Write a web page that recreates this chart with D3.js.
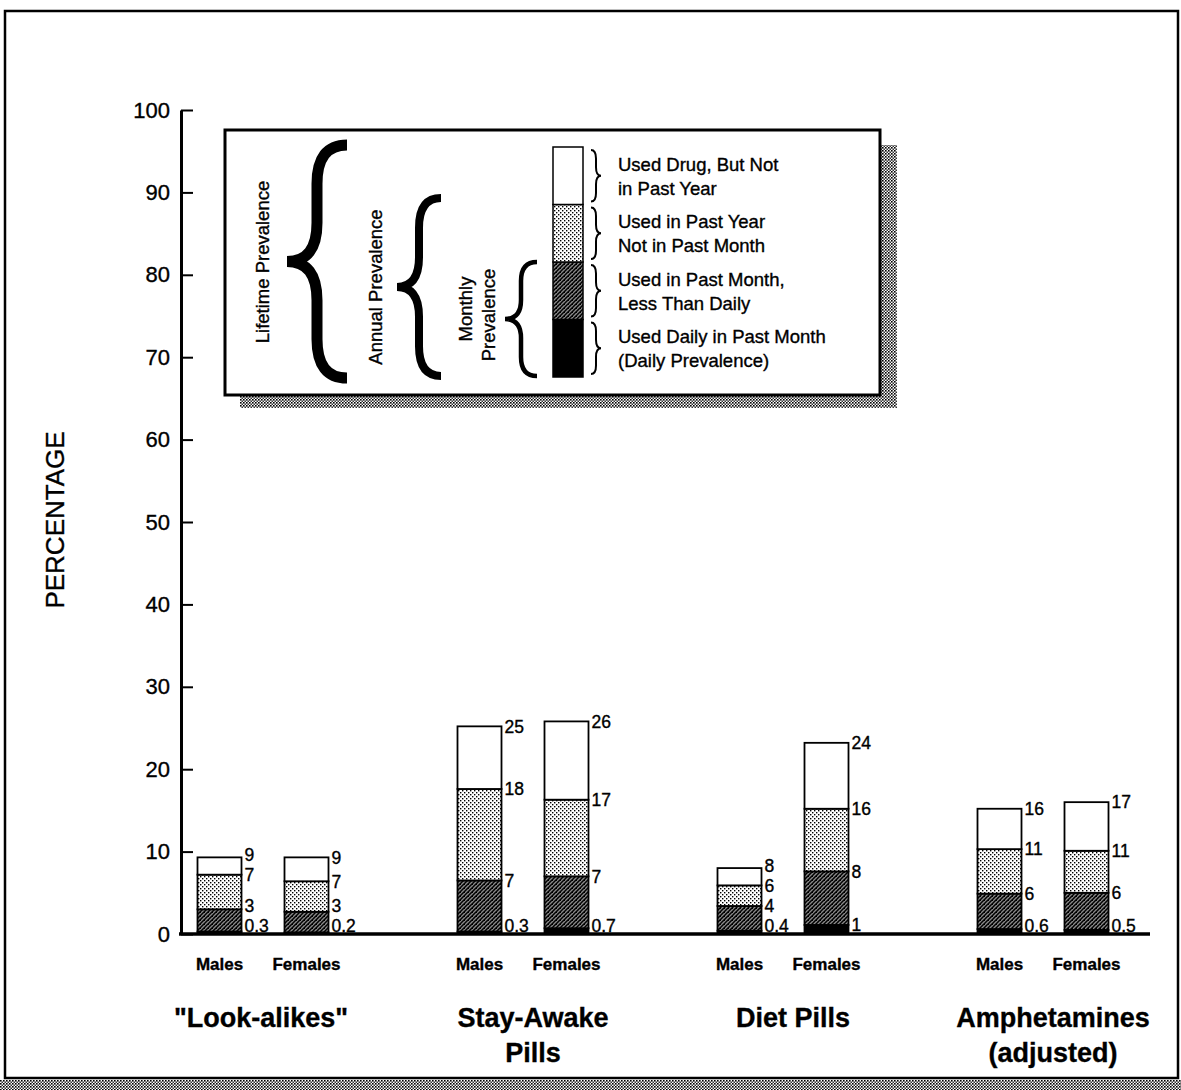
<!DOCTYPE html>
<html><head><meta charset="utf-8">
<script src="https://cdn.jsdelivr.net/npm/d3@7"></script>
<style>
html,body{margin:0;padding:0;background:#fff;}
svg{display:block;font-family:"Liberation Sans",Arial,Helvetica,sans-serif;}
svg text{stroke:#000;stroke-width:0.35px;}
</style></head>
<body>
<svg id="chart" width="1181" height="1090"></svg>
<script>
// ---- data ----
const groups = ['"Look-alikes"', 'Stay-Awake Pills', 'Diet Pills', 'Amphetamines (adjusted)'];
const groupLines = [['"Look-alikes"'], ['Stay-Awake', 'Pills'], ['Diet Pills'], ['Amphetamines', '(adjusted)']];
const sexes = ['Males', 'Females'];
// cumulative heights per bar (order: group x sex)
const daily    = [0.3, 0.2, 0.3, 0.7, 0.4, 1.1, 0.6, 0.5];
const monthly  = [3.0, 2.7, 6.5, 7.0, 3.4, 7.6, 4.9, 5.0];
const annual   = [7.2, 6.4, 17.6, 16.3, 5.9, 15.2, 10.3, 10.1];
const lifetime = [9.3, 9.3, 25.2, 25.8, 8.0, 23.2, 15.2, 16.0];
const dailyLabels    = ['0.3', '0.2', '0.3', '0.7', '0.4', '1', '0.6', '0.5'];
const monthlyLabels  = ['3', '3', '7', '7', '4', '8', '6', '6'];
const annualLabels   = ['7', '7', '18', '17', '6', '16', '11', '11'];
const lifetimeLabels = ['9', '9', '25', '26', '8', '24', '16', '17'];
const yTicks = [0, 10, 20, 30, 40, 50, 60, 70, 80, 90, 100];
const legendItems = [
  ['Used Drug, But Not', 'in Past Year'],
  ['Used in Past Year', 'Not in Past Month'],
  ['Used in Past Month,', 'Less Than Daily'],
  ['Used Daily in Past Month', '(Daily Prevalence)']
];

// ---- setup ----
const svg = d3.select('#chart');
const defs = svg.append('defs');

// light stipple
const pl = defs.append('pattern').attr('id', 'light').attr('patternUnits', 'userSpaceOnUse').attr('width', 4).attr('height', 4);
pl.append('rect').attr('width', 4).attr('height', 4).attr('fill', '#fff');
pl.append('rect').attr('x', 0).attr('y', 0).attr('width', 1.4).attr('height', 1.4).attr('fill', '#000');
pl.append('rect').attr('x', 2).attr('y', 2).attr('width', 1.4).attr('height', 1.4).attr('fill', '#000');
// dark hatch
const pd = defs.append('pattern').attr('id', 'dark').attr('patternUnits', 'userSpaceOnUse').attr('width', 4).attr('height', 4);
pd.append('rect').attr('width', 4).attr('height', 4).attr('fill', '#8a8a8a');
pd.append('path').attr('d', 'M-1,1 L1,-1 M0,4 L4,0 M3,5 L5,3').attr('stroke', '#000').attr('stroke-width', 1.5);
pd.append('rect').attr('x', 0).attr('y', 0).attr('width', 1).attr('height', 1).attr('fill', '#000');
// shadow checker
const ps = defs.append('pattern').attr('id', 'shadow').attr('patternUnits', 'userSpaceOnUse').attr('width', 3).attr('height', 3);
ps.append('rect').attr('width', 3).attr('height', 3).attr('fill', '#fff');
ps.append('rect').attr('x', 0).attr('y', 0).attr('width', 1.6).attr('height', 1.6).attr('fill', '#000');
ps.append('rect').attr('x', 1.5).attr('y', 1.5).attr('width', 1.5).attr('height', 1.5).attr('fill', '#333');

const fills = ['#000', 'url(#dark)', 'url(#light)', '#fff'];

// outer frame + bottom shadow
svg.append('rect').attr('x', 0).attr('y', 1080).attr('width', 1181).attr('height', 10).attr('fill', 'url(#shadow)');
svg.append('rect').attr('x', 5).attr('y', 11).attr('width', 1173).attr('height', 1067)
  .attr('fill', '#fff').attr('stroke', '#000').attr('stroke-width', 2.5);

// scales
const y = d3.scaleLinear().domain([0, 100]).range([934, 110]);
const xg = d3.scalePoint().domain(groups).range([263, 1043]);
const xs = d3.scalePoint().domain(sexes).range([-43.5, 43.5]);
const barW = 44;

// y axis
const yAxis = d3.axisLeft(y).tickValues(yTicks).tickSize(-12).tickSizeOuter(0).tickPadding(11).tickFormat(d3.format('d'));
const ga = svg.append('g').attr('transform', 'translate(181,0)').call(yAxis);
ga.select('.domain').attr('stroke', '#000').attr('stroke-width', 3);
ga.selectAll('.tick line').attr('stroke', '#000').attr('stroke-width', 2);
ga.selectAll('.tick text').attr('font-size', 22).attr('fill', '#000')
  .attr('font-family', '"Liberation Sans",Arial,sans-serif');

svg.append('text').attr('transform', 'translate(64,520) rotate(-90)').attr('text-anchor', 'middle')
  .attr('font-size', 26).text('PERCENTAGE');

// baseline
svg.append('line').attr('x1', 179).attr('x2', 1150).attr('y1', y(0)).attr('y2', y(0))
  .attr('stroke', '#000').attr('stroke-width', 3.5);

// bars
const bars = [];
groups.forEach((g, gi) => sexes.forEach((s, si) => {
  const i = gi * 2 + si;
  bars.push({ g, gi, s, si, i,
    vals: [daily[i], monthly[i], annual[i], lifetime[i]],
    labs: [dailyLabels[i], monthlyLabels[i], annualLabels[i], lifetimeLabels[i]] });
}));

const labelGap = 20;
const bg = svg.append('g');
bars.forEach(b => {
  const cx = xg(b.g) + xs(b.s);
  const x0 = cx - barW / 2;
  let prev = 0;
  b.vals.forEach((v, k) => {
    bg.append('rect').attr('x', x0).attr('y', y(v)).attr('width', barW).attr('height', y(prev) - y(v))
      .attr('fill', fills[k]).attr('stroke', '#000').attr('stroke-width', 1.8);
    prev = v;
  });
  // labels (bottom-up, keep a minimum gap)
  let last = y(0) - 8 + labelGap;
  b.labs.forEach((t, k) => {
    const yy = Math.min(y(b.vals[k]), last - labelGap);
    last = yy;
    bg.append('text').attr('x', x0 + barW + 3).attr('y', yy).attr('dy', '0.36em')
      .attr('font-size', 17.5).text(t);
  });
  // sex label
  svg.append('text').attr('x', cx).attr('y', 970).attr('text-anchor', 'middle')
    .attr('font-size', 17).attr('font-weight', 'bold').text(b.s);
});

// group titles
groups.forEach((g, gi) => {
  const gx = xg(g) + (gi === 0 ? -2 : 10);
  const t = svg.append('text').attr('x', gx).attr('y', 1027).attr('text-anchor', 'middle')
    .attr('font-size', 27).attr('font-weight', 'bold');
  groupLines[gi].forEach((ln, li) => t.append('tspan').attr('x', gx).attr('dy', li === 0 ? 0 : 35).text(ln));
});

// ---- legend ----
const lg = svg.append('g');
lg.append('rect').attr('x', 240).attr('y', 145).attr('width', 657).attr('height', 263).attr('fill', 'url(#shadow)');
lg.append('rect').attr('x', 225).attr('y', 130).attr('width', 655).attr('height', 265)
  .attr('fill', '#fff').attr('stroke', '#000').attr('stroke-width', 3);

// legend mini bar
const ly = d3.scaleLinear().domain([0, 4]).range([377, 147]);
[0, 1, 2, 3].forEach(k => {
  lg.append('rect').attr('x', 553).attr('y', ly(k + 1)).attr('width', 30).attr('height', ly(k) - ly(k + 1))
    .attr('fill', fills[k]).attr('stroke', '#000').attr('stroke-width', 1.5);
});

function brace(x, y1, y2, w, dir, sw) {
  // dir=-1: '{' opening left (tip at x - w); dir=1: '}' tip at x + w
  const ym = (y1 + y2) / 2, r = Math.min(w, (y2 - y1) / 6);
  const xsp = x + dir * w * 0.5, xt = x + dir * w;
  const p = `M${x},${y1} Q${xsp},${y1} ${xsp},${y1 + r} L${xsp},${ym - r} Q${xsp},${ym} ${xt},${ym} Q${xsp},${ym} ${xsp},${ym + r} L${xsp},${y2 - r} Q${xsp},${y2} ${x},${y2}`;
  return lg.append('path').attr('d', p).attr('fill', 'none').attr('stroke', '#000').attr('stroke-width', sw);
}
// legend right braces + texts
legendItems.forEach((lines, j) => {
  const k = 3 - j;
  const top = ly(k + 1) + 3, bot = ly(k) - 3;
  brace(591, top, bot, 10, 1, 2);
  const mid = (top + bot) / 2;
  lines.forEach((ln, li) => {
    lg.append('text').attr('x', 618).attr('y', mid - 5 + li * 24).attr('font-size', 18.5).text(ln);
  });
});
// prevalence braces
brace(347, 145, 378, 60, -1, 11);
brace(441, 198, 376, 44, -1, 8);
brace(537, 262, 376, 32, -1, 4.5);
lg.append('text').attr('transform', 'translate(269,262) rotate(-90)').attr('text-anchor', 'middle').attr('font-size', 18.5).text('Lifetime Prevalence');
lg.append('text').attr('transform', 'translate(382,287) rotate(-90)').attr('text-anchor', 'middle').attr('font-size', 18.5).text('Annual Prevalence');
lg.append('text').attr('transform', 'translate(472,309) rotate(-90)').attr('text-anchor', 'middle').attr('font-size', 18.5).text('Monthly');
lg.append('text').attr('transform', 'translate(495,315) rotate(-90)').attr('text-anchor', 'middle').attr('font-size', 18.5).text('Prevalence');
</script>
</body></html>
